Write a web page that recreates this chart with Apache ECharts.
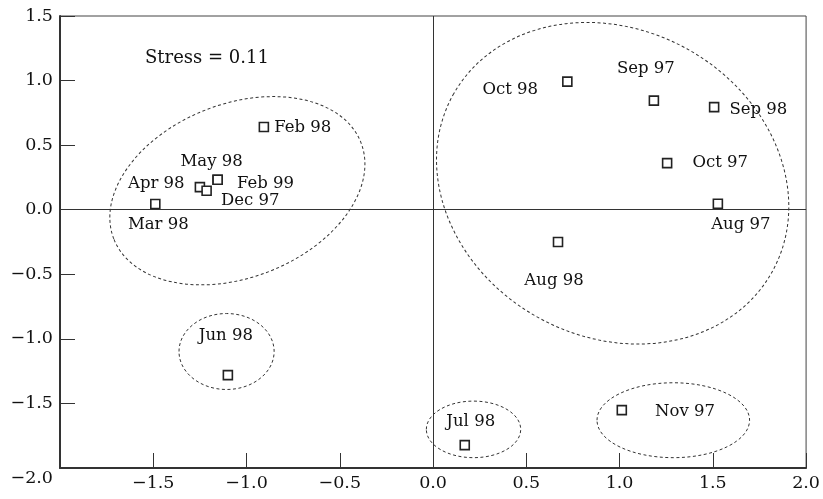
<!DOCTYPE html>
<html>
<head>
<meta charset="utf-8">
<script src="https://cdn.jsdelivr.net/npm/echarts@6/dist/echarts.min.js"></script>
<style>
  html, body { margin: 0; padding: 0; background: #fff; }
  #chart { width: 823px; height: 499px; }
</style>
</head>
<body>
<div id="chart"></div>
<script>
// points of the MDS map
const names = ['Feb 98', 'May 98', 'Feb 99', 'Apr 98', 'Dec 97', 'Mar 98', 'Oct 98', 'Sep 97',
  'Sep 98', 'Oct 97', 'Aug 97', 'Aug 98', 'Jun 98', 'Jul 98', 'Nov 97']
const dimX = [-0.907, -1.155, -1.155, -1.250, -1.214, -1.489, 0.720, 1.184,
  1.507, 1.255, 1.527, 0.670, -1.100, 0.170, 1.012]
const dimY = [0.640, 0.232, 0.232, 0.175, 0.147, 0.044, 0.992, 0.845,
  0.794, 0.361, 0.046, -0.250, -1.281, -1.823, -1.552]

// dashed groupings: centre x, centre y, radius (x units), radius (y units), tilt in degrees
const groupCx = [-1.049, 0.963, -1.107, 0.217, 1.288]
const groupCy = [0.147, 0.205, -1.098, -1.701, -1.630]
const groupRx = [0.711, 0.978, 0.255, 0.253, 0.409]
const groupRy = [0.672, 1.189, 0.294, 0.219, 0.290]
const groupTilt = [21.3, -28.9, 0, 0, 0]

const stressText = 'Stress = 0.11'

// where each label sits next to its square
const labelPlace = {
  'Feb 98': ['right', [0, 1]],
  'May 98': ['top', [-6, 1]],
  'Feb 99': ['right', [9, 4]],
  'Apr 98': ['left', [-5, -3]],
  'Dec 97': ['right', [4, 10]],
  'Mar 98': ['bottom', [3, 2]],
  'Oct 98': ['left', [-19, 8]],
  'Sep 97': ['top', [-8, -13]],
  'Sep 98': ['right', [5, 3]],
  'Oct 97': ['right', [15, 0]],
  'Aug 97': ['bottom', [23, 2]],
  'Aug 98': ['bottom', [-4, 20]],
  'Jun 98': ['top', [-2, -21]],
  'Jul 98': ['top', [6, -5]],
  'Nov 97': ['right', [23, 2]]
}

const font = 'DejaVu Serif'
const ink = '#111'

function fmt(v) {
  return (v < 0 ? '\u2212' : '') + Math.abs(v).toFixed(1)
}

const points = names.map((n, i) => ({
  name: n,
  value: [dimX[i], dimY[i]],
  label: {position: labelPlace[n][0], offset: labelPlace[n][1]}
}))

const chart = echarts.init(document.getElementById('chart'))
chart.setOption({
  animation: false,
  title: {
    text: stressText,
    left: 145,
    top: 49,
    padding: 0,
    textStyle: {fontFamily: font, fontSize: 18, fontWeight: 'normal', color: ink}
  },
  grid: {
    left: 60, right: 16, top: 16, bottom: 31,
    show: true, borderColor: '#444', borderWidth: 1
  },
  xAxis: {
    type: 'value', min: -2, max: 2, interval: 0.5,
    axisLine: {onZero: false, lineStyle: {color: '#333', width: 2}},
    axisTick: {inside: true, length: 15, lineStyle: {color: '#333', width: 1}},
    splitLine: {show: false},
    axisLabel: {
      margin: 6, fontFamily: font, fontSize: 17.5, color: ink,
      formatter: v => v === -2 ? '' : fmt(v)
    }
  },
  yAxis: {
    type: 'value', min: -2, max: 1.5, interval: 0.5,
    axisLine: {onZero: false, lineStyle: {color: '#333', width: 2}},
    axisTick: {inside: true, length: 15, lineStyle: {color: '#333', width: 1}},
    splitLine: {show: false},
    axisLabel: {
      margin: 7, fontFamily: font, fontSize: 17.5, color: ink,
      formatter: v => v === -2 ? '{low|' + fmt(v) + '}' : fmt(v),
      rich: {low: {padding: [20, 0, 0, 0], fontFamily: font, fontSize: 17.5, color: ink}}
    }
  },
  series: [{
    type: 'scatter',
    symbol: 'rect',
    symbolSize: 9,
    itemStyle: {color: '#fff', borderColor: '#222', borderWidth: 1.6, opacity: 1},
    label: {
      show: true,
      formatter: '{b}',
      fontFamily: font, fontSize: 16.5, color: ink
    },
    data: points,
    markLine: {
      silent: true,
      symbol: 'none',
      label: {show: false},
      lineStyle: {type: 'solid', color: '#333', width: 1},
      data: [{xAxis: 0}, {yAxis: 0}]
    },
    z: 3
  }]
})

// 虚线椭圆，经坐标系换算成像素
function drawGroups() {
  const o = chart.convertToPixel({gridIndex: 0}, [0, 0])
  const kx = chart.convertToPixel({gridIndex: 0}, [1, 0])[0] - o[0]
  const ky = o[1] - chart.convertToPixel({gridIndex: 0}, [0, 1])[1]
  const shapes = groupCx.map((cx, i) => {
    const c = chart.convertToPixel({gridIndex: 0}, [cx, groupCy[i]])
    return {
      type: 'ellipse',
      x: c[0], y: c[1],
      rotation: groupTilt[i] * Math.PI / 180,
      shape: {cx: 0, cy: 0, rx: groupRx[i] * kx, ry: groupRy[i] * ky},
      style: {fill: 'none', stroke: '#333', lineWidth: 1, lineDash: [3, 2.5]},
      silent: true,
      z: 1
    }
  })
  chart.setOption({graphic: shapes})
}
drawGroups()
</script>
</body>
</html>
